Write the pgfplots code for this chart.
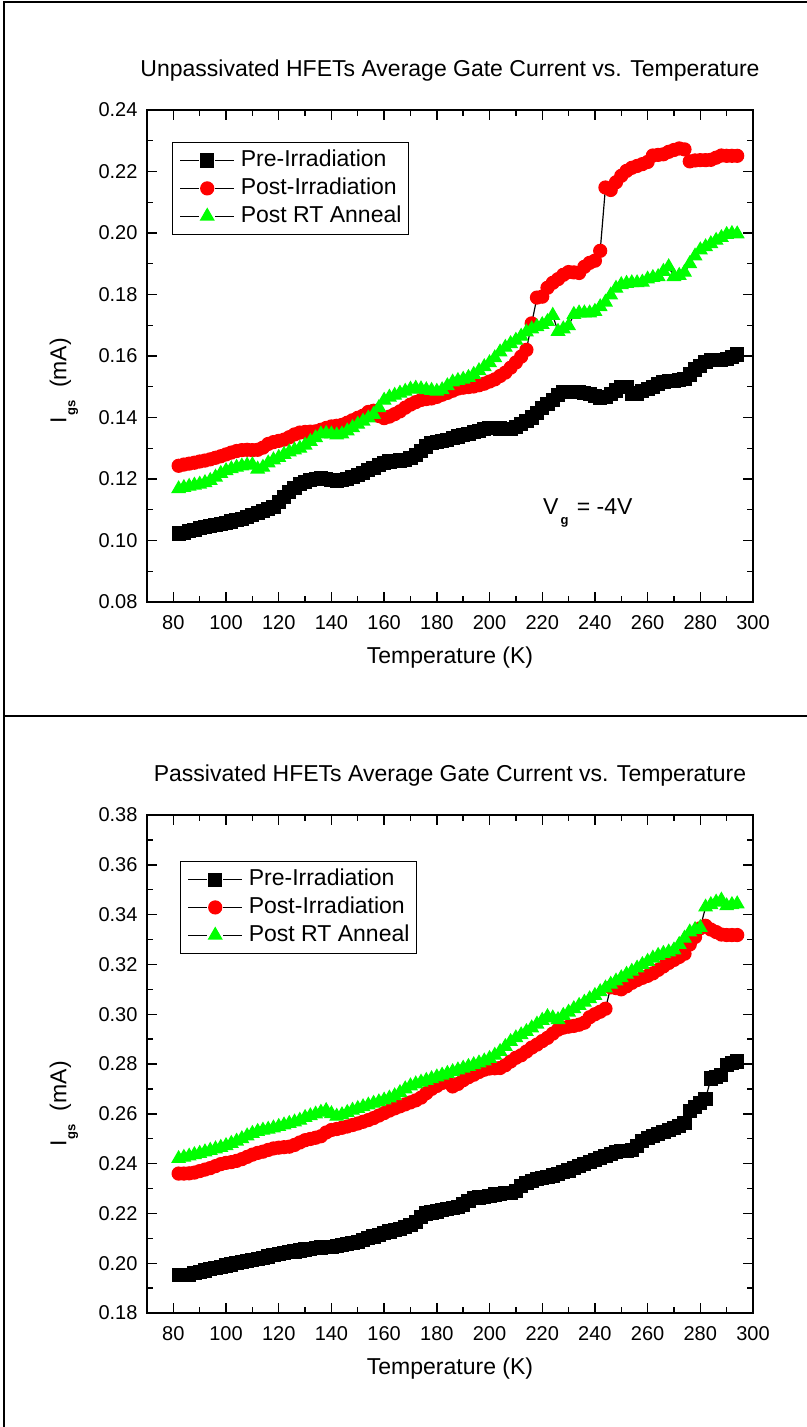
\documentclass[border=0pt]{standalone}
\usepackage{fontspec}
\setmainfont{Liberation Sans}
\usepackage{pgfplots}
\usepackage{pgfplotstable}
\pgfplotsset{compat=1.18}
\definecolor{ored}{RGB}{255,0,0}
\definecolor{ogreen}{RGB}{0,255,0}
\newcommand\bigf{\fontsize{23bp}{27bp}\selectfont}
\newcommand\tickf{\fontsize{20bp}{23bp}\selectfont}
\newcommand\subf{\fontsize{13bp}{13bp}\selectfont\bfseries}

% Unpassivated: T, Pre, Post, Anneal
\pgfplotstableread{
T pre post ann
82 .1023 .1243 .1168
84 .1025 .1247 .1172
86 .1030 .1250 .1176
88 .1035 .1253 .1180
90 .1040 .1257 .1183
92 .1043 .1260 .1188
94 .1046 .1264 .1195
96 .1050 .1269 .1206
98 .1053 .1274 .1218
100 .1058 .1280 .1227
102 .1062 .1286 .1233
104 .1066 .1291 .1238
106 .1071 .1294 .1242
108 .1077 .1295 .1245
110 .1083 .1294 .1246
112 .1090 .1295 .1232
114 .1096 .1302 .1238
116 .1103 .1314 .1252
118 .1110 .1320 .1262
120 .1125 .1324 .1270
122 .1142 .1328 .1280
124 .1158 .1336 .1288
126 .1172 .1345 .1294
128 .1183 .1351 .1300
130 .1190 .1353 .1310
132 .1196 .1354 .1322
134 .1200 .1355 .1334
136 .1202 .1360 .1346
138 .1200 .1366 .1348
140 .1196 .1371 .1346
142 .1193 .1373 .1343
144 .1196 .1376 .1346
146 .1200 .1383 .1356
148 .1206 .1391 .1367
150 .1213 .1399 .1378
152 .1220 .1406 .1388
154 .1228 .1418 .1398
156 .1236 .1422 .1410
158 .1245 .1405 .1432
160 .1253 .1398 .1456
162 .1257 .1403 .1466
164 .1258 .1411 .1472
166 .1260 .1420 .1479
168 .1262 .1432 .1485
170 .1268 .1442 .1492
172 .1277 .1450 .1495
174 .1290 .1457 .1493
176 .1306 .1460 .1490
178 .1317 .1462 .1488
180 .1320 .1467 .1485
182 .1324 .1474 .1490
184 .1328 .1480 .1503
186 .1333 .1487 .1515
188 .1338 .1494 .1520
190 .1343 .1497 .1524
192 .1347 .1499 .1530
194 .1352 .1501 .1540
196 .1357 .1505 .1552
198 .1362 .1510 .1565
200 .1366 .1517 .1578
202 .1366 .1524 .1594
204 .1364 .1535 .1613
206 .1362 .1546 .1628
208 .1363 .1562 .1640
210 .1370 .1579 .1651
212 .1378 .1598 .1664
214 .1388 .1620 .1678
216 .1400 .1706 .1688
218 .1415 .1790 .1695
220 .1430 .1793 .1702
222 .1444 .1822 .1712
224 .1458 .1838 .1732
226 .1472 .1850 .1680
228 .1482 .1864 .1688
230 .1484 .1873 .1698
232 .1483 .1872 .1735
234 .1482 .1870 .1740
236 .1480 .1890 .1740
238 .1476 .1903 .1740
240 .1470 .1910 .1745
242 .1464 .1942 .1760
244 .1466 .2148 .1775
246 .1476 .2140 .1798
248 .1488 .2165 .1820
250 .1500 .2186 .1832
252 .1500 .2202 .1836
254 .1478 .2212 .1838
256 .1476 .2218 .1838
258 .1485 .2224 .1840
260 .1493 .2231 .1850
262 .1500 .2252 .1855
264 .1508 .2254 .1858
266 .1515 .2256 .1875
268 .1518 .2264 .1890
270 .1520 .2270 .1858
272 .1521 .2275 .1862
274 .1525 .2272 .1872
276 .1540 .2233 .1900
278 .1556 .2236 .1925
280 .1568 .2237 .1945
282 .1580 .2237 .1955
284 .1587 .2238 .1965
286 .1588 .2245 .1976
288 .1588 .2252 .1985
290 .1590 .2251 .1995
292 .1598 .2251 .1998
294 .1605 .2251 .1997
}\unpass

% Passivated: T, Pre, Post, Anneal
\pgfplotstableread{
T pre post ann
82 .1953 .2360 .2420
84 .1953 .2360 .2425
86 .1954 .2361 .2430
88 .1960 .2364 .2436
90 .1966 .2370 .2441
92 .1971 .2376 .2447
94 .1976 .2382 .2453
96 .1981 .2390 .2459
98 .1986 .2398 .2465
100 .1991 .2403 .2472
102 .1995 .2406 .2481
104 .2000 .2411 .2490
106 .2005 .2418 .2500
108 .2010 .2427 .2511
110 .2014 .2436 .2521
112 .2018 .2443 .2529
114 .2022 .2448 .2534
116 .2027 .2455 .2538
118 .2032 .2461 .2543
120 .2036 .2464 .2549
122 .2040 .2466 .2555
124 .2044 .2468 .2561
126 .2047 .2475 .2567
128 .2051 .2485 .2574
130 .2055 .2494 .2585
132 .2058 .2499 .2592
134 .2061 .2504 .2599
136 .2063 .2510 .2606
138 .2065 .2525 .2613
140 .2066 .2535 .2600
142 .2068 .2539 .2590
144 .2072 .2544 .2596
146 .2076 .2549 .2605
148 .2080 .2555 .2614
150 .2086 .2561 .2621
152 .2093 .2568 .2628
154 .2100 .2575 .2635
156 .2107 .2583 .2642
158 .2113 .2593 .2648
160 .2120 .2603 .2655
162 .2127 .2613 .2663
164 .2133 .2622 .2672
166 .2139 .2630 .2685
168 .2146 .2638 .2700
170 .2155 .2646 .2712
172 .2167 .2654 .2720
174 .2185 .2665 .2727
176 .2200 .2683 .2734
178 .2204 .2700 .2741
180 .2208 .2712 .2748
182 .2213 .2724 .2755
184 .2217 .2728 .2762
186 .2221 .2710 .2769
188 .2226 .2720 .2776
190 .2236 .2735 .2783
192 .2250 .2747 .2790
194 .2261 .2757 .2797
196 .2264 .2768 .2804
198 .2267 .2777 .2812
200 .2271 .2782 .2822
202 .2276 .2783 .2835
204 .2279 .2784 .2850
206 .2281 .2795 .2870
208 .2283 .2810 .2890
210 .2290 .2825 .2905
212 .2310 .2835 .2917
214 .2322 .2850 .2930
216 .2330 .2866 .2945
218 .2338 .2878 .2960
220 .2343 .2892 .2975
222 .2347 .2905 .2990
224 .2352 .2922 .2985
226 .2358 .2938 .2978
228 .2365 .2946 .2995
230 .2372 .2950 .3008
232 .2381 .2953 .3022
234 .2390 .2958 .3035
236 .2398 .2966 .3048
238 .2406 .2988 .3062
240 .2414 .3000 .3075
242 .2423 .3010 .3090
244 .2432 .3022 .3105
246 .2440 .3108 .3120
248 .2447 .3105 .3133
250 .2450 .3100 .3146
252 .2452 .3112 .3160
254 .2456 .3126 .3172
256 .2470 .3137 .3185
258 .2490 .3146 .3199
260 .2502 .3154 .3212
262 .2510 .3164 .3225
264 .2519 .3178 .3236
266 .2527 .3192 .3244
268 .2535 .3206 .3250
270 .2544 .3218 .3258
272 .2552 .3230 .3280
274 .2563 .3243 .3305
276 .2610 .3280 .3330
278 .2628 .3310 .3340
280 .2645 .3345 .3348
282 .2660 .3355 .3430
284 .2742 .3340 .3440
286 .2748 .3330 .3450
288 .2755 .3320 .3458
290 .2795 .3318 .3435
292 .2805 .3318 .3440
294 .2810 .3318 .3443
}\pass

\pgfplotsset{
  hfet/.style={
    scale only axis, width=606bp,
    xmin=70, xmax=300,
    xtick={80,100,...,300}, minor x tick num=1, minor y tick num=1,
    tick align=inside, major tick length=10bp, minor tick length=6bp,
    every tick/.style={black, line width=1.4bp},
    axis line style={line width=2bp},
    tick label style={font=\tickf},
    /pgf/number format/assume math mode=true,
    yticklabel style={/pgf/number format/fixed, /pgf/number format/fixed zerofill, /pgf/number format/precision=2, xshift=-6bp},
    xticklabel style={yshift=-10bp},
    xlabel={Temperature (K)},
    ylabel={I\hspace{1bp}\raisebox{-9bp}{\subf gs}\ \ (mA)},
    label style={font=\bigf},
    title style={font=\bigf, at={(axis description cs:0.5,1)}, anchor=base, yshift=28bp},
    xlabel style={at={(axis description cs:0.5,0)}, anchor=base, yshift=-61bp},
    legend style={font=\bigf, draw=black, line width=1.2bp, anchor=north west,
      inner xsep=7bp, inner ysep=7.5bp, row sep=6.8bp,
      nodes={inner sep=0bp, text height=16.5bp, text depth=4.5bp}},
    legend cell align=left,
    legend image code/.code={
      \draw[#1, mark=none] (0bp,0bp) -- (19bp,0bp);
      \draw[#1, mark=none] (35bp,0bp) -- (54bp,0bp);
      \draw[#1, only marks] plot coordinates {(27bp,0bp)};
      \path (60bp,0bp);},
  },
  pre/.style={black, line width=1.2bp, mark=square*, mark size=6.5bp, mark options={solid, fill=black, draw=black}},
  post/.style={black, line width=1.2bp, mark=*, mark size=6.5bp, mark options={solid, fill=ored, draw=ored}},
  ann/.style={black, line width=1.2bp, mark=triangle*, mark size=7.5bp, mark options={solid, fill=ogreen, draw=ogreen}},
}

\begin{document}
\begin{tikzpicture}
\path[use as bounding box] (0bp,0bp) rectangle (807bp,-1427bp);
\draw[line width=2bp] (4bp,-1427bp) -- (4bp,-2bp) -- (807bp,-2bp);
\draw[line width=2bp] (4bp,-716bp) -- (807bp,-716bp);

\begin{axis}[hfet, at={(147bp,-602bp)}, anchor=south west, height=492bp,
  ymin=0.08, ymax=0.24, ytick={0.08,0.10,...,0.241},
  title={Unpassivated HFETs Average Gate Current vs. Temperature},
  ylabel style={at={(axis description cs:-0.137,0.45)}, anchor=center},
  legend style={at={(axis description cs:0.0413,0.935)}}]
\addplot[pre] table[x=T,y=pre] {\unpass};
\addlegendentry{Pre-Irradiation}
\addplot[post] table[x=T,y=post] {\unpass};
\addlegendentry{Post-Irradiation}
\addplot[ann] table[x=T,y=ann] {\unpass};
\addlegendentry{Post RT Anneal}
\node[font=\bigf, anchor=base west, inner sep=0pt] at (axis cs:220.3,0.1083) {V\hspace{2bp}\raisebox{-10bp}{\subf g}\hspace{2bp} = -4V};
\end{axis}

\begin{axis}[hfet, at={(147bp,-1313bp)}, anchor=south west, height=498bp,
  ymin=0.18, ymax=0.38, ytick={0.18,0.20,...,0.381},
  title={Passivated HFETs Average Gate Current vs. Temperature},
  ylabel style={at={(axis description cs:-0.137,0.42)}, anchor=center},
  legend style={at={(axis description cs:0.0545,0.9076)}}]
\addplot[pre] table[x=T,y=pre] {\pass};
\addlegendentry{Pre-Irradiation}
\addplot[post] table[x=T,y=post] {\pass};
\addlegendentry{Post-Irradiation}
\addplot[ann] table[x=T,y=ann] {\pass};
\addlegendentry{Post RT Anneal}
\end{axis}
\end{tikzpicture}
\end{document}
